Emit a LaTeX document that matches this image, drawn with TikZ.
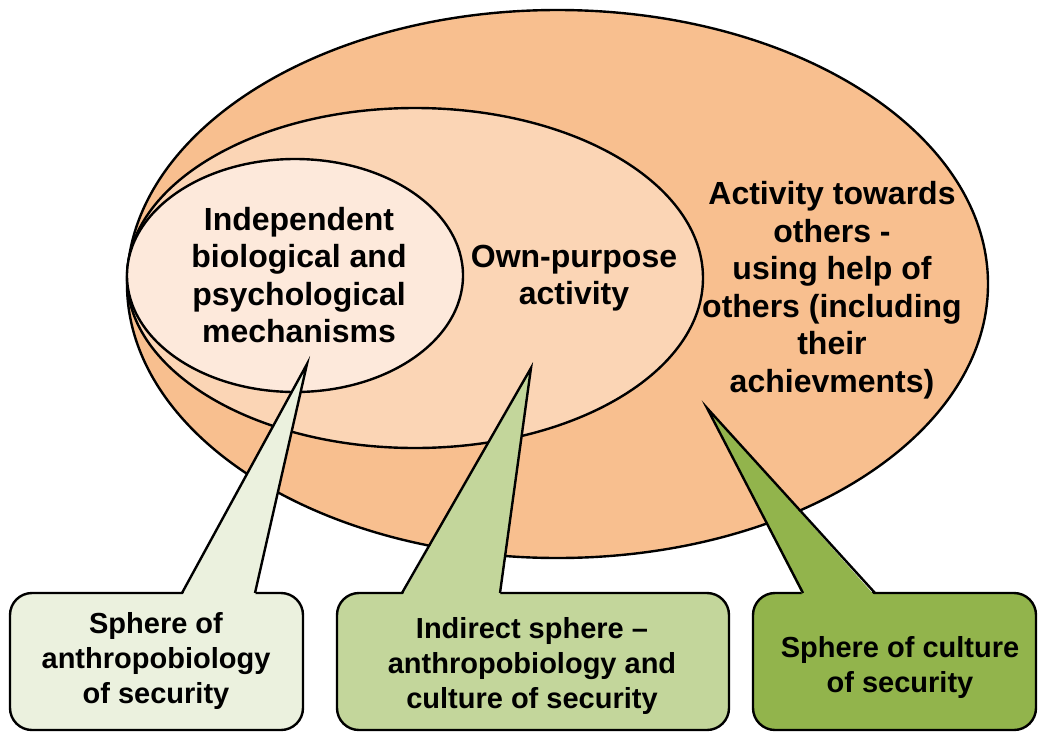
\documentclass[tikz,border=0pt]{standalone}
\usepackage{fontspec}
\setmainfont{Liberation Sans}
\usetikzlibrary{shapes.geometric,calc}
\definecolor{outerC}{RGB}{248,191,143}
\definecolor{midC}{RGB}{251,213,181}
\definecolor{innerC}{RGB}{253,233,219}
\definecolor{boxA}{RGB}{235,241,222}
\definecolor{boxB}{RGB}{195,214,155}
\definecolor{boxC}{RGB}{146,180,76}
\begin{document}
\begin{tikzpicture}[x=1pt,y=-1pt,
  sphere/.style={ellipse, draw=black, line width=2.4pt, inner sep=0pt},
  big/.style={font=\fontsize{32}{37.5}\selectfont\bfseries, align=center, inner sep=0pt},
  small/.style={font=\fontsize{29}{35}\selectfont\bfseries, align=center, inner sep=0pt},
  boxshape/.style={draw=black, line width=2.4pt, rounded corners=22pt, inner sep=0pt, minimum height=137pt},
  pointer/.style={draw=black, line width=2.4pt, line join=miter}]
\useasboundingbox (0,0) rectangle (1039,734);
% nested spheres
\node[sphere, fill=outerC, minimum width=861pt, minimum height=548pt] (outer) at (557.5,284) {};
\node[sphere, fill=midC, minimum width=576pt, minimum height=340pt] (middle) at (415,278) {};
\node[sphere, fill=innerC, minimum width=336pt, minimum height=233pt] (inner) at (295,275.5) {};
% sphere texts
\node[big] (tinner) at (299,275) {Independent\\biological and\\psychological\\mechanisms};
\node[big] (tmid) at (574,278) {Own-purpose\\activity};
\node[big] (touter) at (832,290) {Activity towards\\others -\\using help of\\others (including\\their\\achievments)};
% boxes
\node[boxshape, fill=boxA, minimum width=293pt] (b1) at (156.5,661.5) {};
\node[boxshape, fill=boxB, minimum width=392pt] (b2) at (533,661.5) {};
\node[boxshape, fill=boxC, minimum width=283pt] (b3) at (894.5,661.5) {};
% pointer tips and bases
\coordinate (t1) at (307,364);
\coordinate (p1l) at (182,593);
\coordinate (p1r) at (255,593);
\coordinate (t2) at (531,368);
\coordinate (p2l) at (402,593);
\coordinate (p2r) at (500,593);
\coordinate (t3) at (707,408);
\coordinate (p3l) at (803,593);
\coordinate (p3r) at (875,593);
% pointers
\fill[boxA] (t1) -- ($(p1r)+(0,3)$) -- ($(p1l)+(0,3)$) -- cycle;
\draw[pointer] (p1l) -- (t1) -- (p1r);
\fill[boxB] (t2) -- ($(p2r)+(0,3)$) -- ($(p2l)+(0,3)$) -- cycle;
\draw[pointer] (p2l) -- (t2) -- (p2r);
\fill[boxC] (t3) -- ($(p3r)+(0,3)$) -- ($(p3l)+(0,3)$) -- cycle;
\draw[pointer] (p3l) -- (t3) -- (p3r);
% box texts
\node[small] (tb1) at (156,660.5) {Sphere of\\anthropobiology\\of security};
\node[small] (tb2) at (532,666) {Indirect sphere --\\anthropobiology and\\culture of security};
\node[small] (tb3) at (900,667) {Sphere of culture\\of security};
\end{tikzpicture}
\end{document}
